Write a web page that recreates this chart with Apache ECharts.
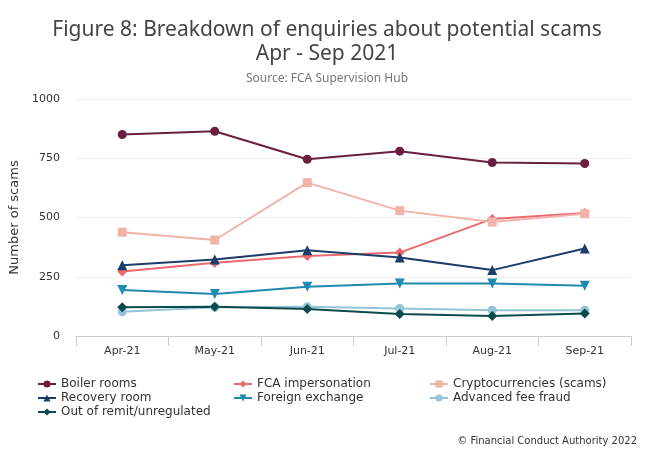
<!DOCTYPE html>
<html lang="en">
<head>
    <meta charset="UTF-8">
    <title>Breakdown of enquiries about potential scams</title>
    <script src="https://cdn.jsdelivr.net/npm/echarts@6/dist/echarts.min.js"></script>
    <style>
        html, body { margin: 0; padding: 0; background: #fff; }
        #chart { width: 654px; height: 449px; }
    </style>
</head>
<body>
    <div id="chart"></div>
    <script>
        // categories and values
        const months = ['Apr-21', 'May-21', 'Jun-21', 'Jul-21', 'Aug-21', 'Sep-21'];
        const boilerRooms = [850, 864, 746, 780, 732, 728];
        const fcaImpersonation = [272, 309, 338, 352, 494, 519];
        const crypto = [438, 405, 647, 529, 481, 516];
        const recoveryRoom = [299, 323, 362, 331, 278, 369];
        const foreignExchange = [194, 177, 208, 222, 222, 212];
        const advancedFee = [102, 121, 123, 116, 109, 109];
        const outOfRemit = [121, 123, 114, 93, 84, 95];
        const yTicks = [0, 250, 500, 750, 1000];

        const chart = echarts.init(document.getElementById('chart'));

        // helper for one line series
        function line(name, data, color, symbol, extra) {
            return Object.assign({
                name: name,
                type: 'line',
                data: data,
                symbol: symbol,
                symbolSize: 9,
                lineStyle: { color: color, width: 2 },
                itemStyle: { color: color },
                emphasis: { disabled: true }
            }, extra || {});
        }

        const legendText = { color: '#333', fontSize: 12, lineHeight: 12, fontFamily: 'DejaVu Sans' };
        const legendBase = {
            orient: 'vertical',
            top: 378,
            itemWidth: 18,
            itemHeight: 9,
            itemGap: 2,
            padding: 0,
            textStyle: legendText,
            selectedMode: false
        };

        chart.setOption({
            animation: false,
            title: [{
                text: 'Figure 8: Breakdown of enquiries about potential scams\nApr - Sep 2021',
                left: 'center',
                top: 13,
                textStyle: { color: '#444', fontSize: 21, fontWeight: 'normal', fontFamily: 'Noto Sans', lineHeight: 24 }
            }, {
                text: 'Source: FCA Supervision Hub',
                left: 'center',
                top: 68,
                textStyle: { color: '#777', fontSize: 12, fontWeight: 'normal', fontFamily: 'Noto Sans' }
            }, {
                text: '© Financial Conduct Authority 2022',
                right: 12,
                top: 431,
                textStyle: { color: '#333', fontSize: 10, fontWeight: 'normal', fontFamily: 'DejaVu Sans' }
            }],
            legend: [
                Object.assign({ left: 37, data: ['Boiler rooms', 'Recovery room', 'Out of remit/unregulated'] }, legendBase),
                Object.assign({ left: 233, data: ['FCA impersonation', 'Foreign exchange'] }, legendBase),
                Object.assign({ left: 429, data: ['Cryptocurrencies (scams)', 'Advanced fee fraud'] }, legendBase)
            ],
            grid: { left: 76, right: 23, top: 99, bottom: 113 },
            xAxis: {
                type: 'category',
                data: months,
                boundaryGap: true,
                axisLine: { lineStyle: { color: '#ccc' } },
                axisTick: { show: true, length: 10, lineStyle: { color: '#ccc' } },
                axisLabel: { color: '#333', fontSize: 11, fontFamily: 'DejaVu Sans', margin: 10 }
            },
            yAxis: {
                type: 'value',
                min: yTicks[0],
                max: yTicks[yTicks.length - 1],
                interval: 250,
                name: 'Number of scams',
                nameLocation: 'middle',
                nameGap: 45,
                nameTextStyle: { color: '#333', fontSize: 13, fontFamily: 'DejaVu Sans' },
                axisLine: { show: false },
                axisTick: { show: false },
                axisLabel: { color: '#333', fontSize: 11, fontFamily: 'DejaVu Sans', margin: 16, formatter: v => String(v) },
                splitLine: { lineStyle: { color: '#eee' } }
            },
            series: [
                line('Boiler rooms', boilerRooms, '#6b1f40', 'circle'),
                line('FCA impersonation', fcaImpersonation, '#ea6a6f', 'diamond', { symbolSize: 10 }),
                line('Cryptocurrencies (scams)', crypto, '#f2b2aa', 'rect'),
                line('Recovery room', recoveryRoom, '#1a3d69', 'triangle', { symbolSize: 10 }),
                line('Foreign exchange', foreignExchange, '#2089b0', 'triangle', { symbolSize: 10, symbolRotate: 180 }),
                line('Advanced fee fraud', advancedFee, '#93c4d7', 'circle'),
                line('Out of remit/unregulated', outOfRemit, '#0c4b4b', 'diamond', { symbolSize: 10 })
            ]
        });
    </script>
</body>
</html>
